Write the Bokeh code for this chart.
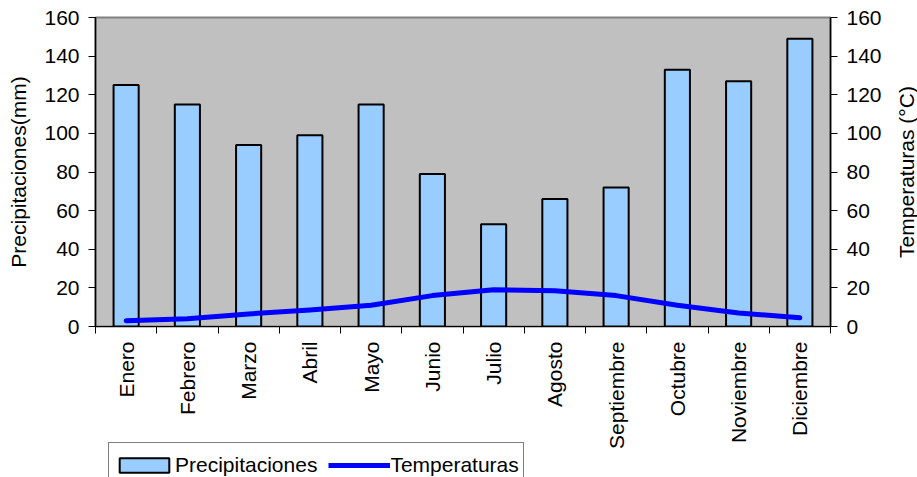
import numpy as np
from bokeh.plotting import figure
from bokeh.layouts import column, row
from bokeh.models import (Range1d, LinearAxis, FixedTicker, Legend, LegendItem,
                          ColumnDataSource)
from bokeh.embed import file_html
from bokeh.resources import INLINE

months = ["Enero", "Febrero", "Marzo", "Abril", "Mayo", "Junio", "Julio",
          "Agosto", "Septiembre", "Octubre", "Noviembre", "Diciembre"]
precip = [125, 115, 94, 99, 115, 79, 53, 66, 72, 133, 127, 149]
temps = [3, 4, 6.5, 8.5, 11, 16, 19, 18.5, 16, 11, 7, 4.5]
y_ticks = [0, 20, 40, 60, 80, 100, 120, 140, 160]

FONT = "Liberation Sans"
FS = "21px"
BAR_FILL = "#99CCFF"
LINE_COLOR = "#0000FF"
W, H = 917, 477
BL, BR, BT, BB = 95, 87, 17, 151

n = len(months)
xc = np.arange(n) + 0.5
src = ColumnDataSource(dict(x=xc, p=precip, t=temps, m=months))

p = figure(width=W, height=H, output_backend="svg", toolbar_location=None,
           x_range=Range1d(0, n), y_range=Range1d(0, 160),
           min_border_left=BL, min_border_right=BR, min_border_top=BT,
           min_border_bottom=BB, x_axis_location=None, y_axis_location=None)
p.extra_y_ranges = {"temp": Range1d(0, 160)}

p.background_fill_color = "#C0C0C0"
p.border_fill_color = "white"
p.outline_line_color = "#808080"
p.outline_line_width = 2
p.xgrid.visible = False
p.ygrid.visible = False

bars = p.vbar(x="x", top="p", width=0.41, bottom=0, source=src,
              fill_color=BAR_FILL, line_color="black", line_width=2)
line = p.line(x="x", y="t", source=src, line_color=LINE_COLOR, line_width=5,
              line_cap="round", line_join="round", y_range_name="temp")

# x axis: labels at category centres, tick marks at category boundaries
xax = LinearAxis(ticker=FixedTicker(ticks=list(xc), minor_ticks=list(range(n + 1))))
xax.major_label_overrides = {float(v): m for v, m in zip(xc, months)}
xax.major_label_orientation = np.pi / 2
xax.major_tick_line_color = None
xax.major_tick_out = 7
xax.major_tick_in = 0
xax.minor_tick_out = 7
xax.minor_tick_in = 0
xax.minor_tick_line_color = "black"
xax.major_label_standoff = 8
xax.axis_line_color = "black"
xax.major_label_text_font = FONT
xax.major_label_text_font_size = FS
xax.major_label_text_color = "black"
p.add_layout(xax, "below")

def style_y(ax):
    ax.ticker = FixedTicker(ticks=y_ticks)
    ax.major_tick_out = 7
    ax.major_tick_in = 0
    ax.minor_tick_line_color = None
    ax.axis_line_color = "black"
    ax.axis_line_width = 1.5
    ax.major_tick_line_color = "black"
    ax.major_label_standoff = 9
    ax.major_label_text_font = FONT
    ax.major_label_text_font_size = FS
    ax.major_label_text_color = "black"
    ax.axis_label_text_font = FONT
    ax.axis_label_text_font_size = FS
    ax.axis_label_text_font_style = "normal"
    ax.axis_label_text_color = "black"
    ax.axis_label_standoff = 11

yl = LinearAxis(axis_label="Precipitaciones(mm)")
style_y(yl)
p.add_layout(yl, "left")
yr = LinearAxis(y_range_name="temp")
style_y(yr)
p.add_layout(yr, "right")

# right-hand axis title (reads bottom-to-top), drawn by a narrow overlaid strip
RW = 24
r = figure(width=RW, height=H, output_backend="svg", toolbar_location=None,
           x_axis_location=None, y_axis_location=None,
           min_border_left=RW - 2, min_border_right=0, min_border_top=BT,
           min_border_bottom=BB, x_range=Range1d(0, 1), y_range=Range1d(0, 160))
r.margin = (0, 0, 0, -RW)
r.background_fill_alpha = 0
r.border_fill_alpha = 0
r.outline_line_color = None
r.xgrid.visible = False
r.ygrid.visible = False
rt = LinearAxis(axis_label="Temperaturas (°C)", ticker=FixedTicker(ticks=[]))
rt.axis_line_color = None
rt.major_tick_line_color = None
rt.minor_tick_line_color = None
rt.major_tick_out = 0
rt.major_label_standoff = 0
rt.axis_label_standoff = 0
rt.axis_label_text_font = FONT
rt.axis_label_text_font_size = FS
rt.axis_label_text_font_style = "normal"
rt.axis_label_text_color = "black"
r.add_layout(rt, "left")

# legend strip, overlapping the bottom of the chart (cut off like the original).
# Its proxy renderers are squeezed behind the opaque legend box.
LEG_H = 48
q = figure(width=W, height=LEG_H, output_backend="svg", toolbar_location=None,
           x_axis_location=None, y_axis_location=None,
           min_border_left=BL, min_border_right=BR, min_border_top=0,
           min_border_bottom=0, x_range=Range1d(-5, 25), y_range=Range1d(-600, 600))
q.margin = (-LEG_H, 0, 0, 0)
q.background_fill_alpha = 0
q.border_fill_alpha = 0
q.outline_line_color = None
q.xgrid.visible = False
q.ygrid.visible = False
lb = q.vbar(x="x", top="p", width=0.41, source=src,
            fill_color=BAR_FILL, line_color="black", line_width=2)
ll = q.line(x="x", y="t", source=src, line_color=LINE_COLOR, line_width=5)

legend = Legend(items=[LegendItem(label="Precipitaciones", renderers=[lb]),
                       LegendItem(label="Temperaturas", renderers=[ll])],
                orientation="horizontal", location="top_left")
legend.border_line_color = "black"
legend.border_line_width = 1
legend.background_fill_color = "white"
legend.background_fill_alpha = 1
legend.glyph_width = 62
legend.glyph_height = 18
legend.label_height = 36
legend.label_standoff = 0
legend.spacing = 11
legend.padding = 4
legend.margin = 13
legend.label_text_font = FONT
legend.label_text_font_size = FS
legend.label_text_color = "black"
q.add_layout(legend, "center")

layout = row(column(p, q, spacing=0), r, spacing=0)
open("out.html", "w").write(file_html(layout, INLINE))
